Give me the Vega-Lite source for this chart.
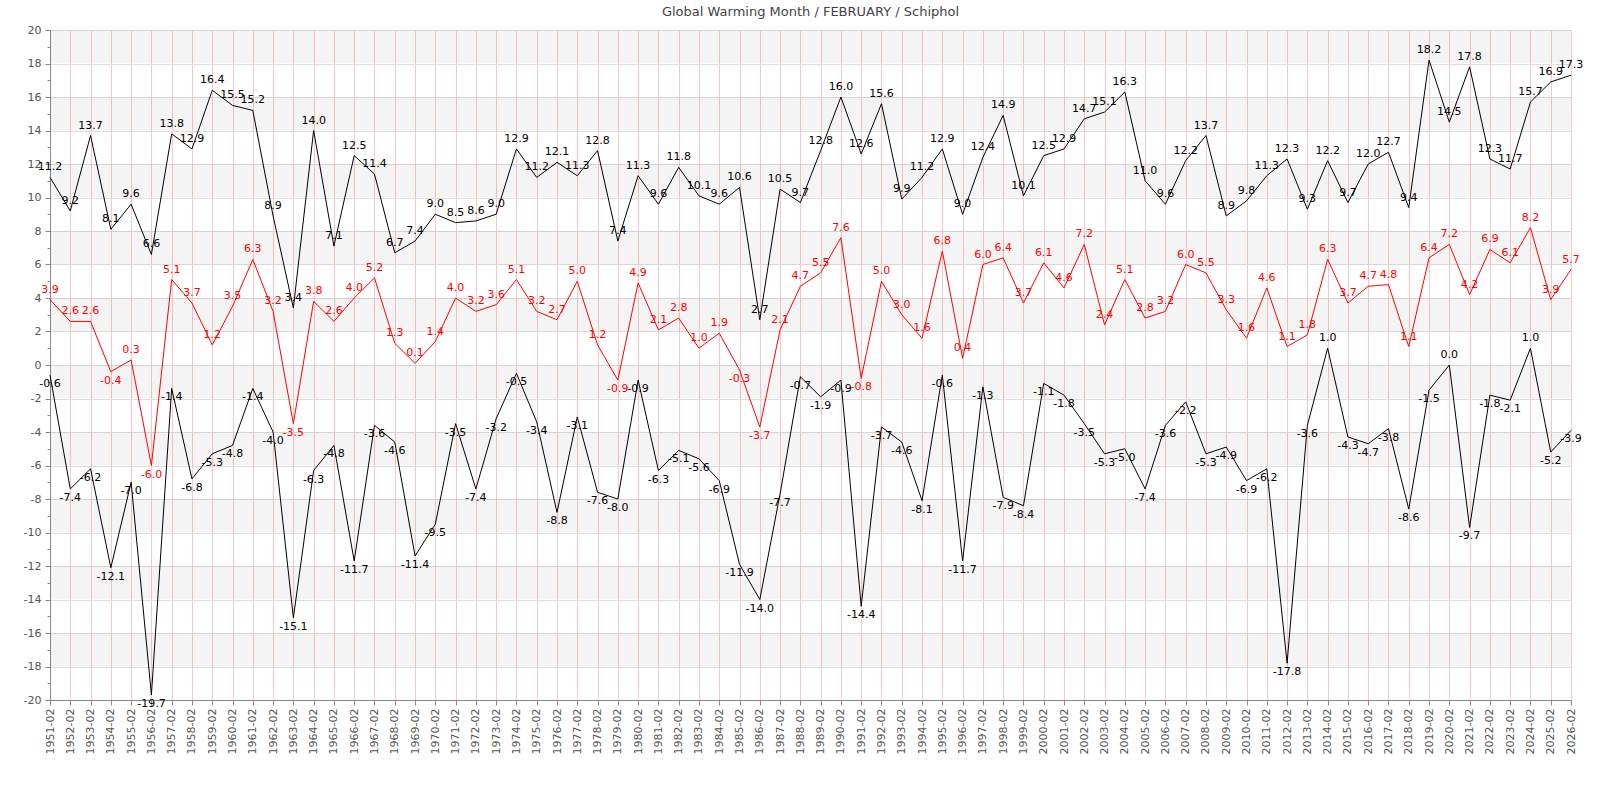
{
  "$schema": "https://vega.github.io/schema/vega-lite/v6.json",
  "width": 1521,
  "height": 670,
  "autosize": "none",
  "padding": {"left": 50, "top": 30, "right": 29, "bottom": 100},
  "background": "white",
  "config": {
    "font": "DejaVu Sans",
    "locale": {"number": {"decimal": ".", "thousands": ",", "grouping": [3], "currency": ["$", ""], "minus": "-"}},
    "view": {"stroke": null},
    "axis": {"labelFont": "DejaVu Sans", "labelFontSize": 11, "labelColor": "#555555", "domainColor": "#888888", "tickColor": "#888888", "labelOverlap": false}
  },
  "title": {
    "text": "Global Warming Month / FEBRUARY / Schiphol",
    "fontSize": 13,
    "fontWeight": "normal",
    "color": "#444444",
    "anchor": "middle",
    "offset": 5
  },
  "datasets": {
    "feb": [
      {"month": "1951-02", "max": 11.2, "mean": 3.9, "min": -0.6},
      {"month": "1952-02", "max": 9.2, "mean": 2.6, "min": -7.4},
      {"month": "1953-02", "max": 13.7, "mean": 2.6, "min": -6.2},
      {"month": "1954-02", "max": 8.1, "mean": -0.4, "min": -12.1},
      {"month": "1955-02", "max": 9.6, "mean": 0.3, "min": -7.0},
      {"month": "1956-02", "max": 6.6, "mean": -6.0, "min": -19.7},
      {"month": "1957-02", "max": 13.8, "mean": 5.1, "min": -1.4},
      {"month": "1958-02", "max": 12.9, "mean": 3.7, "min": -6.8},
      {"month": "1959-02", "max": 16.4, "mean": 1.2, "min": -5.3},
      {"month": "1960-02", "max": 15.5, "mean": 3.5, "min": -4.8},
      {"month": "1961-02", "max": 15.2, "mean": 6.3, "min": -1.4},
      {"month": "1962-02", "max": 8.9, "mean": 3.2, "min": -4.0},
      {"month": "1963-02", "max": 3.4, "mean": -3.5, "min": -15.1},
      {"month": "1964-02", "max": 14.0, "mean": 3.8, "min": -6.3},
      {"month": "1965-02", "max": 7.1, "mean": 2.6, "min": -4.8},
      {"month": "1966-02", "max": 12.5, "mean": 4.0, "min": -11.7},
      {"month": "1967-02", "max": 11.4, "mean": 5.2, "min": -3.6},
      {"month": "1968-02", "max": 6.7, "mean": 1.3, "min": -4.6},
      {"month": "1969-02", "max": 7.4, "mean": 0.1, "min": -11.4},
      {"month": "1970-02", "max": 9.0, "mean": 1.4, "min": -9.5},
      {"month": "1971-02", "max": 8.5, "mean": 4.0, "min": -3.5},
      {"month": "1972-02", "max": 8.6, "mean": 3.2, "min": -7.4},
      {"month": "1973-02", "max": 9.0, "mean": 3.6, "min": -3.2},
      {"month": "1974-02", "max": 12.9, "mean": 5.1, "min": -0.5},
      {"month": "1975-02", "max": 11.2, "mean": 3.2, "min": -3.4},
      {"month": "1976-02", "max": 12.1, "mean": 2.7, "min": -8.8},
      {"month": "1977-02", "max": 11.3, "mean": 5.0, "min": -3.1},
      {"month": "1978-02", "max": 12.8, "mean": 1.2, "min": -7.6},
      {"month": "1979-02", "max": 7.4, "mean": -0.9, "min": -8.0},
      {"month": "1980-02", "max": 11.3, "mean": 4.9, "min": -0.9},
      {"month": "1981-02", "max": 9.6, "mean": 2.1, "min": -6.3},
      {"month": "1982-02", "max": 11.8, "mean": 2.8, "min": -5.1},
      {"month": "1983-02", "max": 10.1, "mean": 1.0, "min": -5.6},
      {"month": "1984-02", "max": 9.6, "mean": 1.9, "min": -6.9},
      {"month": "1985-02", "max": 10.6, "mean": -0.3, "min": -11.9},
      {"month": "1986-02", "max": 2.7, "mean": -3.7, "min": -14.0},
      {"month": "1987-02", "max": 10.5, "mean": 2.1, "min": -7.7},
      {"month": "1988-02", "max": 9.7, "mean": 4.7, "min": -0.7},
      {"month": "1989-02", "max": 12.8, "mean": 5.5, "min": -1.9},
      {"month": "1990-02", "max": 16.0, "mean": 7.6, "min": -0.9},
      {"month": "1991-02", "max": 12.6, "mean": -0.8, "min": -14.4},
      {"month": "1992-02", "max": 15.6, "mean": 5.0, "min": -3.7},
      {"month": "1993-02", "max": 9.9, "mean": 3.0, "min": -4.6},
      {"month": "1994-02", "max": 11.2, "mean": 1.6, "min": -8.1},
      {"month": "1995-02", "max": 12.9, "mean": 6.8, "min": -0.6},
      {"month": "1996-02", "max": 9.0, "mean": 0.4, "min": -11.7},
      {"month": "1997-02", "max": 12.4, "mean": 6.0, "min": -1.3},
      {"month": "1998-02", "max": 14.9, "mean": 6.4, "min": -7.9},
      {"month": "1999-02", "max": 10.1, "mean": 3.7, "min": -8.4},
      {"month": "2000-02", "max": 12.5, "mean": 6.1, "min": -1.1},
      {"month": "2001-02", "max": 12.9, "mean": 4.6, "min": -1.8},
      {"month": "2002-02", "max": 14.7, "mean": 7.2, "min": -3.5},
      {"month": "2003-02", "max": 15.1, "mean": 2.4, "min": -5.3},
      {"month": "2004-02", "max": 16.3, "mean": 5.1, "min": -5.0},
      {"month": "2005-02", "max": 11.0, "mean": 2.8, "min": -7.4},
      {"month": "2006-02", "max": 9.6, "mean": 3.2, "min": -3.6},
      {"month": "2007-02", "max": 12.2, "mean": 6.0, "min": -2.2},
      {"month": "2008-02", "max": 13.7, "mean": 5.5, "min": -5.3},
      {"month": "2009-02", "max": 8.9, "mean": 3.3, "min": -4.9},
      {"month": "2010-02", "max": 9.8, "mean": 1.6, "min": -6.9},
      {"month": "2011-02", "max": 11.3, "mean": 4.6, "min": -6.2},
      {"month": "2012-02", "max": 12.3, "mean": 1.1, "min": -17.8},
      {"month": "2013-02", "max": 9.3, "mean": 1.8, "min": -3.6},
      {"month": "2014-02", "max": 12.2, "mean": 6.3, "min": 1.0},
      {"month": "2015-02", "max": 9.7, "mean": 3.7, "min": -4.3},
      {"month": "2016-02", "max": 12.0, "mean": 4.7, "min": -4.7},
      {"month": "2017-02", "max": 12.7, "mean": 4.8, "min": -3.8},
      {"month": "2018-02", "max": 9.4, "mean": 1.1, "min": -8.6},
      {"month": "2019-02", "max": 18.2, "mean": 6.4, "min": -1.5},
      {"month": "2020-02", "max": 14.5, "mean": 7.2, "min": 0.0},
      {"month": "2021-02", "max": 17.8, "mean": 4.2, "min": -9.7},
      {"month": "2022-02", "max": 12.3, "mean": 6.9, "min": -1.8},
      {"month": "2023-02", "max": 11.7, "mean": 6.1, "min": -2.1},
      {"month": "2024-02", "max": 15.7, "mean": 8.2, "min": 1.0},
      {"month": "2025-02", "max": 16.9, "mean": 3.9, "min": -5.2},
      {"month": "2026-02", "max": 17.3, "mean": 5.7, "min": -3.9}
    ],
    "bands": [
      {"lo": 18, "hi": 20}, {"lo": 14, "hi": 16}, {"lo": 10, "hi": 12},
      {"lo": 6, "hi": 8}, {"lo": 2, "hi": 4}, {"lo": -2, "hi": 0},
      {"lo": -6, "hi": -4}, {"lo": -10, "hi": -8}, {"lo": -14, "hi": -12},
      {"lo": -18, "hi": -16}
    ]
  },
  "layer": [
    {
      "data": {"name": "bands"},
      "mark": {"type": "rect", "color": "#000000", "opacity": 0.045},
      "encoding": {
        "y": {
          "field": "lo",
          "type": "quantitative",
          "scale": {"domain": [-20, 20], "nice": false},
          "title": null,
          "axis": {
            "values": [-20, -19, -18, -17, -16, -15, -14, -13, -12, -11, -10, -9, -8, -7, -6, -5, -4, -3, -2, -1, 0, 1, 2, 3, 4, 5, 6, 7, 8, 9, 10, 11, 12, 13, 14, 15, 16, 17, 18, 19, 20],
            "labelExpr": "datum.value % 2 === 0 ? datum.label : ''",
            "labelOverlap": false,
            "grid": true,
            "gridColor": "#dddddd",
            "gridOpacity": {"condition": {"test": "datum.value % 2 !== 0", "value": 0}, "value": 1},
            "tickSize": {"condition": {"test": "datum.value % 2 !== 0", "value": 3}, "value": 5},
            "labelPadding": 4
          }
        },
        "y2": {"field": "hi"}
      }
    },
    {
      "data": {"name": "feb"},
      "transform": [{"fold": ["max", "mean", "min"], "as": ["series", "value"]}],
      "encoding": {
        "x": {
          "field": "month",
          "type": "ordinal",
          "scale": {"type": "point", "padding": 0},
          "title": null,
          "axis": {"labelAngle": -90, "grid": true, "gridColor": "#ffc4c4", "gridOpacity": 1, "tickSize": 5, "labelPadding": 3, "labelOverlap": false}
        },
        "y": {
          "field": "value",
          "type": "quantitative",
          "title": null,
          "axis": {
            "values": [-20, -19, -18, -17, -16, -15, -14, -13, -12, -11, -10, -9, -8, -7, -6, -5, -4, -3, -2, -1, 0, 1, 2, 3, 4, 5, 6, 7, 8, 9, 10, 11, 12, 13, 14, 15, 16, 17, 18, 19, 20],
            "labelExpr": "datum.value % 2 === 0 ? datum.label : ''",
            "labelOverlap": false,
            "grid": true,
            "gridColor": "#dddddd",
            "gridOpacity": {"condition": {"test": "datum.value % 2 !== 0", "value": 0}, "value": 1},
            "tickSize": {"condition": {"test": "datum.value % 2 !== 0", "value": 3}, "value": 5},
            "labelPadding": 4
          }
        },
        "color": {
          "field": "series",
          "type": "nominal",
          "scale": {"domain": ["max", "mean", "min"], "range": ["#000000", "#ff0000", "#000000"]},
          "legend": null
        }
      },
      "layer": [
        {
          "mark": {"type": "line", "strokeWidth": 1}
        },
        {
          "transform": [{"filter": "datum.value >= 0"}],
          "mark": {"type": "text", "fontSize": 11, "baseline": "middle", "align": "center", "dy": -10},
          "encoding": {
            "text": {"field": "value", "type": "quantitative", "format": ".1f"}
          }
        },
        {
          "transform": [{"filter": "datum.value < 0"}],
          "mark": {"type": "text", "fontSize": 11, "baseline": "middle", "align": "center", "dy": 9},
          "encoding": {
            "text": {"field": "value", "type": "quantitative", "format": ".1f"}
          }
        }
      ]
    }
  ]
}
